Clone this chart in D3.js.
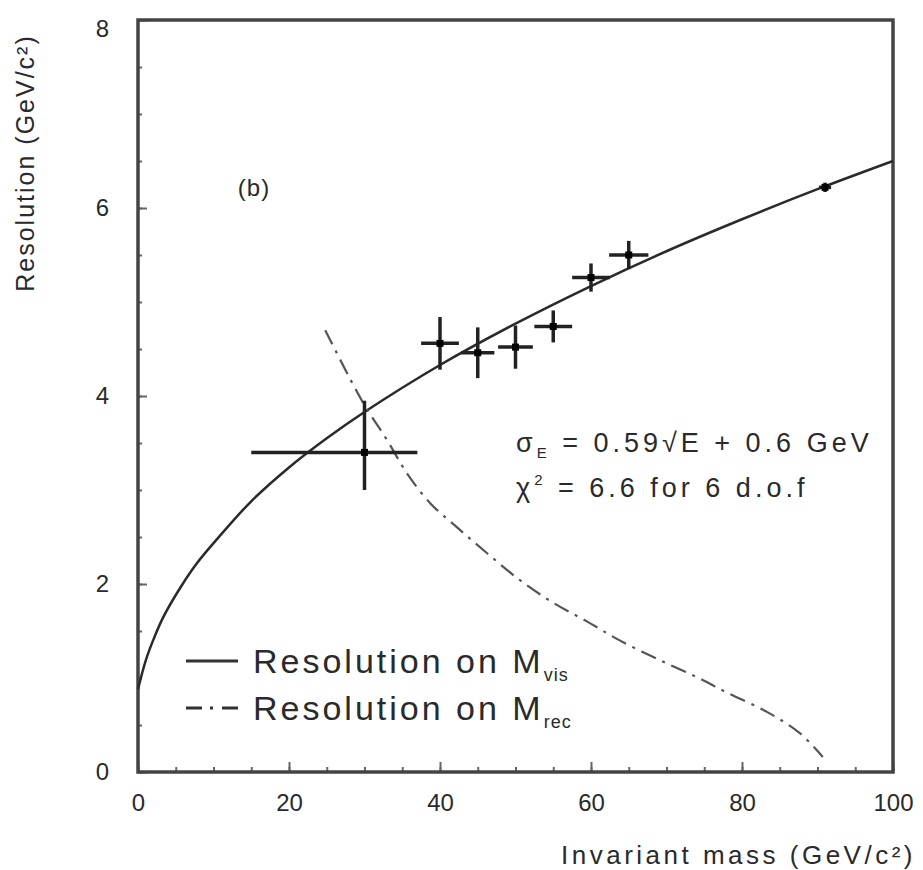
<!DOCTYPE html>
<html>
<head>
<meta charset="utf-8">
<script src="https://cdn.jsdelivr.net/npm/d3@7"></script>
<style>
  body { margin: 0; background: #fff; }
  text { font-family: "Liberation Sans", Arial, sans-serif; fill: #2a2a2a; }
</style>
</head>
<body>
<div id="chart"></div>
<script>
// Plot constants
const WIDTH = 923;
const HEIGHT = 870;

// Fit curve (solid)
const fitMass = [0, 1, 2, 3.3, 5.6, 7.8, 10.5, 15, 20, 25, 30, 40, 50, 60, 70, 80, 90, 100];
const fitRes = [0.88, 1.18, 1.4, 1.64, 1.96, 2.22, 2.48, 2.88, 3.24, 3.55, 3.83, 4.33, 4.77, 5.17, 5.54, 5.88, 6.2, 6.5];

// Resolution on M_rec (dash-dot)
const recMass = [24.8, 29.8, 33.0, 35.6, 38.7, 42.3, 46.2, 50.6, 55.0, 59.5, 63.8, 69.1, 74.0, 78.1, 83.3, 87.7, 90.7];
const recRes = [4.70, 3.93, 3.53, 3.18, 2.86, 2.60, 2.33, 2.04, 1.80, 1.60, 1.40, 1.19, 1.01, 0.84, 0.64, 0.41, 0.16];

// Measured points with error bars
const ptMass = [30, 40, 45, 50, 55, 60, 65, 91];
const ptRes = [3.40, 4.56, 4.46, 4.52, 4.74, 5.26, 5.50, 6.22];
const ptXLo = [15, 2.5, 2.2, 2.3, 2.5, 2.5, 2.6, 0.8];
const ptXHi = [7, 2.5, 2.2, 2.3, 2.5, 2.5, 2.6, 0.8];
const ptYLo = [0.40, 0.28, 0.27, 0.23, 0.17, 0.15, 0.15, 0.05];
const ptYHi = [0.55, 0.28, 0.27, 0.23, 0.17, 0.15, 0.15, 0.05];

// Ticks
const xTicks = [0, 20, 40, 60, 80, 100];
const yTicks = [0, 2, 4, 6, 8];

const svg = d3.select("#chart")
  .append("svg")
  .attr("width", WIDTH)
  .attr("height", HEIGHT);

svg.append("rect").attr("width", WIDTH).attr("height", HEIGHT).attr("fill", "#fff");

const x = d3.scaleLinear().domain([0, 100]).range([138, 893]);
const y = d3.scaleLinear().domain([0, 8]).range([772, 20]);

// Axes with inward ticks
const xAxis = d3.axisBottom(x).tickValues(d3.range(0, 101, 5)).tickSizeInner(-5).tickSizeOuter(0).tickFormat("");
const xAxisMajor = d3.axisBottom(x).tickValues(xTicks).tickSizeInner(-10).tickSizeOuter(0).tickPadding(22)
  .tickFormat(d => d);
const yAxis = d3.axisLeft(y).tickValues(d3.range(0, 8.01, 0.5)).tickSizeInner(-4).tickSizeOuter(0).tickFormat("");
const yAxisMajor = d3.axisLeft(y).tickValues(yTicks).tickSizeInner(-9).tickSizeOuter(0).tickPadding(29)
  .tickFormat(d => d);

[xAxis, xAxisMajor].forEach(a => {
  svg.append("g").attr("class", "x axis").attr("transform", `translate(0,${y(0)})`).call(a);
});
[yAxis, yAxisMajor].forEach(a => {
  svg.append("g").attr("class", "y axis").attr("transform", `translate(${x(0)},0)`).call(a);
});
svg.selectAll(".axis path").remove();
svg.selectAll(".axis line").attr("stroke", "#666").attr("stroke-width", 2);
svg.selectAll(".axis text").attr("font-size", "24px").attr("fill", "#2a2a2a")
  .style("font-family", "'Liberation Sans', Arial, sans-serif");
svg.selectAll(".y.axis text").filter(d => d === 8).attr("dy", "0.7em");

// Frame
svg.append("rect")
  .attr("x", x(0))
  .attr("y", y(8))
  .attr("width", x(100) - x(0))
  .attr("height", y(0) - y(8))
  .attr("fill", "none")
  .attr("stroke", "#444")
  .attr("stroke-width", 3.5);

// Curves
const fitLine = d3.line().x(d => x(d[0])).y(d => y(d[1])).curve(d3.curveCatmullRom);
svg.append("path")
  .datum(d3.zip(fitMass, fitRes))
  .attr("d", fitLine)
  .attr("fill", "none")
  .attr("stroke", "#2a2a2a")
  .attr("stroke-width", 2.5);

svg.append("path")
  .datum(d3.zip(recMass, recRes))
  .attr("d", fitLine)
  .attr("fill", "none")
  .attr("stroke", "#555")
  .attr("stroke-width", 2.2)
  .attr("stroke-dasharray", "16,7,3,7");

// Error bars
const pts = ptMass.map((m, i) => ({m, r: ptRes[i], xl: ptXLo[i], xh: ptXHi[i], yl: ptYLo[i], yh: ptYHi[i]}));
const pg = svg.append("g").selectAll("g").data(pts).enter().append("g");
pg.append("line")
  .attr("x1", d => x(d.m - d.xl)).attr("x2", d => x(d.m + d.xh))
  .attr("y1", d => y(d.r)).attr("y2", d => y(d.r))
  .attr("stroke", "#222").attr("stroke-width", 3.5);
pg.append("line")
  .attr("x1", d => x(d.m)).attr("x2", d => x(d.m))
  .attr("y1", d => y(d.r - d.yl)).attr("y2", d => y(d.r + d.yh))
  .attr("stroke", "#222").attr("stroke-width", 3.5);
pg.append("rect")
  .attr("x", d => x(d.m) - 3.5).attr("y", d => y(d.r) - 3.5)
  .attr("width", 7).attr("height", 7)
  .attr("fill", "#000");

// Labels
svg.append("text").attr("x", 254).attr("y", 196).attr("text-anchor", "middle")
  .attr("font-size", "24px").attr("letter-spacing", "1px").text("(b)");

const f1 = svg.append("text").attr("x", 516).attr("y", 452)
  .attr("font-size", "27px").attr("letter-spacing", "4px");
f1.append("tspan").text("σ");
f1.append("tspan").attr("font-size", "15px").attr("dy", 6).text("E");
f1.append("tspan").attr("dy", -6).text(" = 0.59√E + 0.6 GeV");

const f2 = svg.append("text").attr("x", 516).attr("y", 497)
  .attr("font-size", "27px").attr("letter-spacing", "4px");
f2.append("tspan").text("χ");
f2.append("tspan").attr("font-size", "15px").attr("dy", -12).text("2");
f2.append("tspan").attr("dy", 12).text(" = 6.6 for 6 d.o.f");

// Legend
const legendRows = [
  {label: "vis", dash: null, yPos: 661},
  {label: "rec", dash: "16,8,3,9", yPos: 708}
];
legendRows.forEach(row => {
  svg.append("line")
    .attr("x1", 186).attr("x2", 238)
    .attr("y1", row.yPos).attr("y2", row.yPos)
    .attr("stroke", "#333").attr("stroke-width", 3)
    .attr("stroke-dasharray", row.dash);
  const t = svg.append("text").attr("x", 253).attr("y", row.yPos + 12)
    .attr("font-size", "34px").attr("letter-spacing", "3px");
  t.append("tspan").text("Resolution on M");
  t.append("tspan").attr("font-size", "18px").attr("dy", 8).attr("letter-spacing", "1px").text(row.label);
});

// Axis titles
svg.append("text")
  .attr("transform", "translate(34,163) rotate(-90)")
  .attr("text-anchor", "middle")
  .attr("font-size", "25px")
  .attr("letter-spacing", "2px")
  .text("Resolution (GeV/c²)");

svg.append("text")
  .attr("x", 916).attr("y", 864)
  .attr("text-anchor", "end")
  .attr("font-size", "26px")
  .attr("letter-spacing", "3.5px")
  .text("Invariant mass (GeV/c²)");
</script>
</body>
</html>
